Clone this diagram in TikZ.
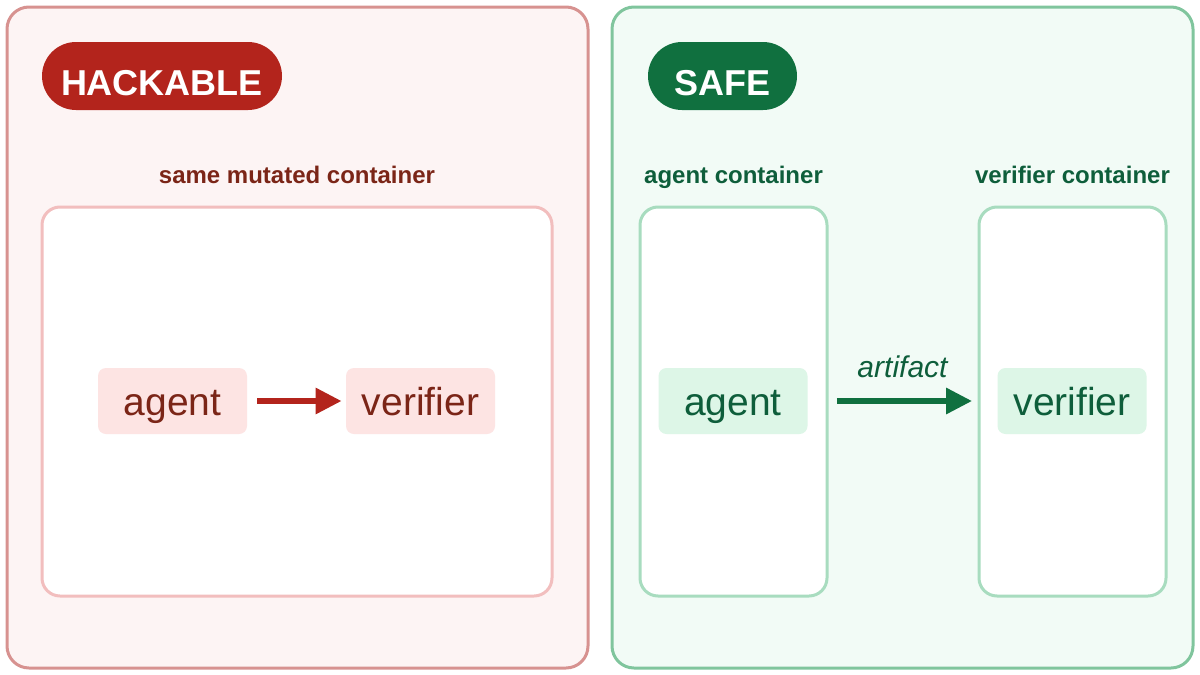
\documentclass[tikz,border=0pt]{standalone}
\usepackage{fontspec}
\setmainfont{Liberation Sans}
\usetikzlibrary{arrows.meta}

\definecolor{hackred}{HTML}{B3241C}
\definecolor{hackdark}{HTML}{7B2517}
\definecolor{hackline}{HTML}{D79290}
\definecolor{hackbg}{HTML}{FDF4F4}
\definecolor{hackinner}{HTML}{F2BEBE}
\definecolor{hackchip}{HTML}{FDE4E3}
\definecolor{safegreen}{HTML}{10703F}
\definecolor{safedark}{HTML}{0E5E3B}
\definecolor{safeline}{HTML}{80C59D}
\definecolor{safebg}{HTML}{F2FBF6}
\definecolor{safeinner}{HTML}{A8DCBF}
\definecolor{safechip}{HTML}{DDF6E7}

\tikzset{
  panel/.style={draw, line width=1.5pt, rounded corners=11pt,
    minimum width=290.5pt, minimum height=330.5pt, inner sep=0pt},
  holder/.style={draw, fill=white, line width=1.5pt, rounded corners=9pt,
    minimum height=194.5pt, inner sep=0pt},
  pill/.style={fill, rounded corners=17pt, minimum height=34pt, inner sep=0pt,
    text height=19pt, text depth=0pt,
    text=white, font=\fontsize{18}{20}\selectfont\bfseries},
  chip/.style={rounded corners=4pt, minimum width=74.5pt, minimum height=33pt,
    inner sep=0pt, text height=16pt, text depth=2pt,
    font=\fontsize{19.5}{22}\selectfont},
  caption/.style={font=\fontsize{12}{14}\selectfont\bfseries, inner sep=1pt,
    text height=9pt, text depth=2pt},
  flow/.style={line width=3pt, -{Triangle[length=13pt,width=12.5pt]}},
}

\begin{document}
\begin{tikzpicture}[x=0.5pt,y=-0.5pt]
\useasboundingbox (0,0) rectangle (1200,675);
% hackable side
\node[panel, draw=hackline, fill=hackbg] (hpanel) at (297.5,337.5) {};
\node[pill, fill=hackred, minimum width=120pt] (hpill) at (162,76) {HACKABLE};
\node[caption, text=hackdark] (hcap) at (297,176) {same mutated container};
\node[holder, draw=hackinner, minimum width=255pt] (hbox) at (297,401.5) {};
\node[chip, fill=hackchip, text=hackdark] (hagent) at (172.5,401) {agent};
\node[chip, fill=hackchip, text=hackdark] (hverifier) at (420.5,401) {verifier};
\draw[flow, hackred, shorten <=5pt, shorten >=2pt] (hagent) -- (hverifier);
% safe side
\node[panel, draw=safeline, fill=safebg] (spanel) at (902.5,337.5) {};
\node[pill, fill=safegreen, minimum width=74.5pt] (spill) at (722.5,76) {SAFE};
\node[caption, text=safedark] (acap) at (733.5,176) {agent container};
\node[caption, text=safedark] (vcap) at (1072.5,176) {verifier container};
\node[holder, draw=safeinner, minimum width=93.5pt] (abox) at (733.5,401.5) {};
\node[holder, draw=safeinner, minimum width=93.5pt] (vbox) at (1072.5,401.5) {};
\node[chip, fill=safechip, text=safedark] (sagent) at (733,401) {agent};
\node[chip, fill=safechip, text=safedark] (sverifier) at (1072,401) {verifier};
\draw[flow, safegreen, shorten <=14.5pt, shorten >=12.5pt] (sagent) -- (sverifier)
  node[midway, anchor=base, yshift=12pt, text=safedark,
    font=\fontsize{15}{17}\selectfont\itshape] (art) {artifact};
\end{tikzpicture}
\end{document}
